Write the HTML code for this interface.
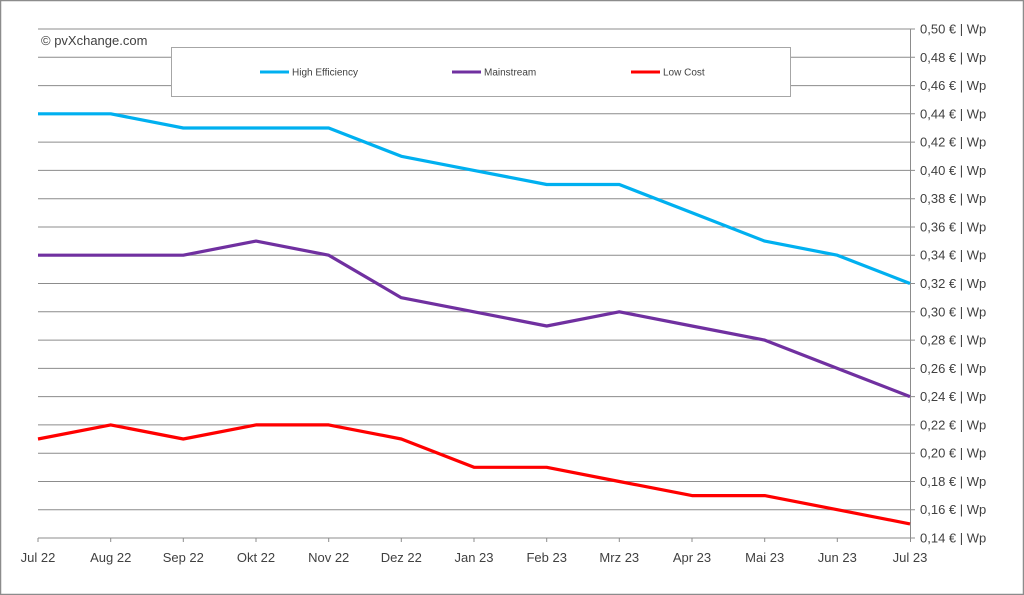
<!DOCTYPE html>
<html><head><meta charset="utf-8"><style>
body{margin:0;background:#fff}
svg{display:block;font-family:"Liberation Sans",sans-serif}
</style></head><body>
<svg width="1024" height="595" viewBox="0 0 1024 595">
<rect x="0.5" y="0.5" width="1023" height="594" fill="#fff" stroke="#8c8c8c" stroke-width="1.5"/>
<g stroke="#8c8c8c" stroke-width="1">
<line x1="38" x2="915" y1="29" y2="29"/><line x1="38" x2="915" y1="57.3" y2="57.3"/><line x1="38" x2="915" y1="85.6" y2="85.6"/><line x1="38" x2="915" y1="113.8" y2="113.8"/><line x1="38" x2="915" y1="142.1" y2="142.1"/><line x1="38" x2="915" y1="170.4" y2="170.4"/><line x1="38" x2="915" y1="198.7" y2="198.7"/><line x1="38" x2="915" y1="227" y2="227"/><line x1="38" x2="915" y1="255.2" y2="255.2"/><line x1="38" x2="915" y1="283.5" y2="283.5"/><line x1="38" x2="915" y1="311.8" y2="311.8"/><line x1="38" x2="915" y1="340.1" y2="340.1"/><line x1="38" x2="915" y1="368.4" y2="368.4"/><line x1="38" x2="915" y1="396.6" y2="396.6"/><line x1="38" x2="915" y1="424.9" y2="424.9"/><line x1="38" x2="915" y1="453.2" y2="453.2"/><line x1="38" x2="915" y1="481.5" y2="481.5"/><line x1="38" x2="915" y1="509.7" y2="509.7"/><line x1="38" x2="915" y1="538" y2="538"/>
<line x1="910.5" x2="910.5" y1="29" y2="542"/>
<line x1="38" x2="38" y1="538" y2="542"/><line x1="110.7" x2="110.7" y1="538" y2="542"/><line x1="183.3" x2="183.3" y1="538" y2="542"/><line x1="256" x2="256" y1="538" y2="542"/><line x1="328.7" x2="328.7" y1="538" y2="542"/><line x1="401.3" x2="401.3" y1="538" y2="542"/><line x1="474" x2="474" y1="538" y2="542"/><line x1="546.7" x2="546.7" y1="538" y2="542"/><line x1="619.3" x2="619.3" y1="538" y2="542"/><line x1="692" x2="692" y1="538" y2="542"/><line x1="764.7" x2="764.7" y1="538" y2="542"/><line x1="837.3" x2="837.3" y1="538" y2="542"/>
</g>
<g font-size="13" fill="#404040">
<text x="920" y="33.5">0,50 € | Wp</text><text x="920" y="61.8">0,48 € | Wp</text><text x="920" y="90">0,46 € | Wp</text><text x="920" y="118.3">0,44 € | Wp</text><text x="920" y="146.6">0,42 € | Wp</text><text x="920" y="174.9">0,40 € | Wp</text><text x="920" y="203.2">0,38 € | Wp</text><text x="920" y="231.5">0,36 € | Wp</text><text x="920" y="259.7">0,34 € | Wp</text><text x="920" y="288">0,32 € | Wp</text><text x="920" y="316.3">0,30 € | Wp</text><text x="920" y="344.6">0,28 € | Wp</text><text x="920" y="372.9">0,26 € | Wp</text><text x="920" y="401.1">0,24 € | Wp</text><text x="920" y="429.4">0,22 € | Wp</text><text x="920" y="457.7">0,20 € | Wp</text><text x="920" y="486">0,18 € | Wp</text><text x="920" y="514.2">0,16 € | Wp</text><text x="920" y="542.5">0,14 € | Wp</text>
</g>
<g font-size="13" fill="#404040" text-anchor="middle">
<text x="38" y="562">Jul 22</text><text x="110.7" y="562">Aug 22</text><text x="183.3" y="562">Sep 22</text><text x="256" y="562">Okt 22</text><text x="328.7" y="562">Nov 22</text><text x="401.3" y="562">Dez 22</text><text x="474" y="562">Jan 23</text><text x="546.7" y="562">Feb 23</text><text x="619.3" y="562">Mrz 23</text><text x="692" y="562">Apr 23</text><text x="764.7" y="562">Mai 23</text><text x="837.3" y="562">Jun 23</text><text x="910" y="562">Jul 23</text>
</g>
<rect x="38" y="31" width="120" height="20" fill="#fff"/>
<text x="41" y="45" font-size="13" fill="#404040">© pvXchange.com</text>
<rect x="171.5" y="47.5" width="619" height="49" fill="#fff" stroke="#a6a6a6"/>
<g stroke-width="3">
<line x1="260" x2="289" y1="72" y2="72" stroke="#00b0f0"/>
<line x1="452" x2="481" y1="72" y2="72" stroke="#7030a0"/>
<line x1="631" x2="660" y1="72" y2="72" stroke="#ff0000"/>
</g>
<g font-size="10" fill="#404040">
<text x="292" y="75.5">High Efficiency</text><text x="484" y="75.5">Mainstream</text><text x="663" y="75.5">Low Cost</text>
</g>
<g fill="none" stroke-width="3.2" stroke-linejoin="round">
<polyline stroke="#00b0f0" points="38,113.8 110.7,113.8 183.3,128 256,128 328.7,128 401.3,156.3 474,170.4 546.7,184.5 619.3,184.5 692,212.8 764.7,241.1 837.3,255.2 910,283.5"/>
<polyline stroke="#7030a0" points="38,255.2 110.7,255.2 183.3,255.2 256,241.1 328.7,255.2 401.3,297.7 474,311.8 546.7,326 619.3,311.8 692,326 764.7,340.1 837.3,368.4 910,396.6"/>
<polyline stroke="#ff0000" points="38,439 110.7,424.9 183.3,439 256,424.9 328.7,424.9 401.3,439 474,467.3 546.7,467.3 619.3,481.5 692,495.6 764.7,495.6 837.3,509.7 910,523.9"/>
</g>
</svg>
</body></html>
